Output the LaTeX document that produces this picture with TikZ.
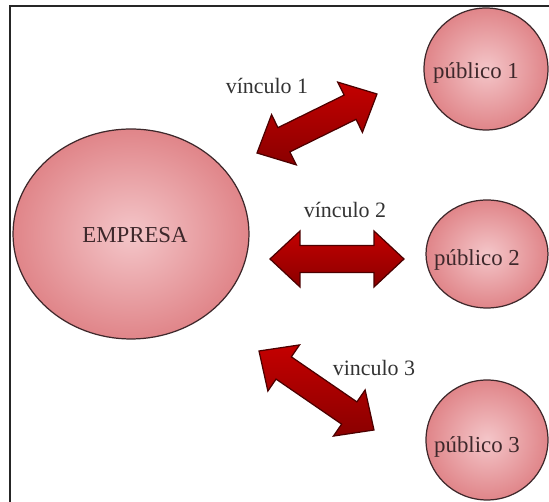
\documentclass[tikz,border=0pt]{standalone}
\usepackage{fontspec}
\setmainfont{Liberation Serif}
\usetikzlibrary{calc,shapes.geometric}
\definecolor{pinkin}{HTML}{F4C6C9}
\definecolor{pinkout}{HTML}{E08589}
\definecolor{rimcol}{HTML}{3E282B}
\definecolor{redtop}{HTML}{C40000}
\definecolor{redbot}{HTML}{8A0000}
\definecolor{labcol}{HTML}{333333}
\tikzset{
	bubble/.style={ellipse, draw=rimcol, line width=0.7pt, inner color=pinkin, outer color=pinkout, inner sep=0pt},
	bubbletext/.style={text=rimcol, font=\fontsize{13}{15}\selectfont},
	linktext/.style={text=labcol, font=\fontsize{12.5}{14}\selectfont},
	fatarrow/.style={draw=black!70!red, line width=0.7pt, top color=redtop, bottom color=redbot}
}
\def\twohead[#1](#2)(#3){%
	\coordinate (h1) at ($(#2)!0.6cm!(#3)$);
	\coordinate (h2) at ($(#3)!0.6cm!(#2)$);
	\path[#1] (#2) -- ($(h1)!0.56cm!90:(#3)$) -- ($(h1)!0.27cm!90:(#3)$) -- ($(h2)!0.27cm!-90:(#2)$) -- ($(h2)!0.56cm!-90:(#2)$) -- (#3) -- ($(h2)!0.56cm!90:(#2)$) -- ($(h2)!0.27cm!90:(#2)$) -- ($(h1)!0.27cm!-90:(#3)$) -- ($(h1)!0.56cm!-90:(#3)$) -- cycle;}

\begin{document}
\begin{tikzpicture}[x=0.02cm, y=-0.02cm]
		%%%%% START %%%%%
		\useasboundingbox (0, 0) rectangle (549, 502);
		
		\node[bubble, minimum width=4.72cm, minimum height=4.2cm] (empresa) at (131, 234) {};
		\node[bubbletext] (empresatxt) at (135, 235) {EMPRESA};
		
		\node[bubble, minimum width=2.48cm, minimum height=2.44cm] (pub1) at (486, 69) {};
		\node[bubbletext] (pub1txt) at (476, 73) {público 1};
		\node[bubble, minimum width=2.44cm, minimum height=2.16cm] (pub2) at (487, 254) {};
		\node[bubbletext] (pub2txt) at (477, 260) {público 2};
		\node[bubble, minimum width=2.44cm, minimum height=2.4cm] (pub3) at (487, 440) {};
		\node[bubbletext] (pub3txt) at (477, 447) {público 3};
		
		\coordinate (v1a) at (257, 153);
		\coordinate (v1b) at (377, 94);
		\coordinate (v2a) at (270, 259);
		\coordinate (v2b) at (404, 259);
		\coordinate (v3a) at (259, 351);
		\coordinate (v3b) at (374, 430);
		\twohead[fatarrow](v1a)(v1b)
		\twohead[fatarrow](v2a)(v2b)
		\twohead[fatarrow](v3a)(v3b)
		
		\node[linktext] (v1txt) at (267, 86) {vínculo 1};
		\node[linktext] (v2txt) at (345, 210) {vínculo 2};
		\node[linktext] (v3txt) at (374, 368) {vinculo 3};
		
		\draw[line width=0.9pt, black!85] (10, 502) -- (10, 6) -- (549, 6);
		%%%%% END %%%%%
\end{tikzpicture}
\end{document}
